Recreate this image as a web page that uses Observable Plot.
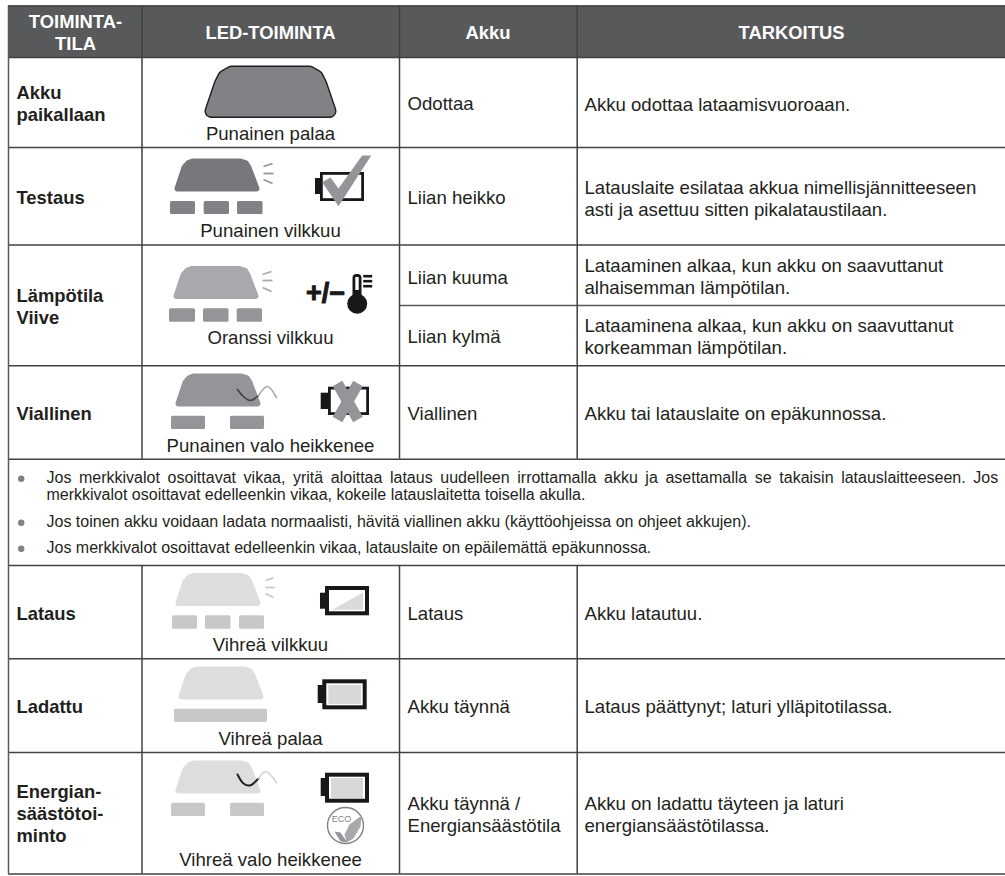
<!DOCTYPE html>
<html><head><meta charset="utf-8">
<style>html,body{margin:0;padding:0;background:#fff}svg{display:block}</style>
<script src="https://cdn.jsdelivr.net/npm/d3@7"></script>
<script src="https://cdn.jsdelivr.net/npm/@observablehq/plot@0.6"></script>
</head><body><div id="chart"></div>
<script>
const FONT = '"Liberation Sans", Arial, sans-serif';
const INK = "#231f20", LINE = "#414042", HEAD = "#58595b";

// table grid
const tableLeft = 8, tableRight = 1005, tableTop = 5.5, tableBottom = 873.5;
const columnEdges = [141.5, 399, 576.7];
const rowEdges = [57, 147, 244.5, 365.3, 458.7, 565, 658.3, 752];
const verticalSpans = [[5.5, 458.7], [565, 873.5]];

// text
const headers = [["TOIMINTA-\nTILA", 75, 31], ["LED-TOIMINTA", 270, 31.5], ["Akku", 487.5, 31.5], ["TARKOITUS", 791, 31.5]];
const modes = [["Akku\npaikallaan", 102.7], ["Testaus", 196.7], ["Lämpötila\nViive", 305.8], ["Viallinen", 412.7], ["Lataus", 612.7], ["Ladattu", 705.3], ["Energian-\nsäästötoi-\nminto", 812.7]];
const ledLabels = [["Punainen palaa", 134], ["Punainen vilkkuu", 230.7], ["Oranssi vilkkuu", 337.7], ["Punainen valo heikkenee", 445.7], ["Vihreä vilkkuu", 645], ["Vihreä palaa", 738.7], ["Vihreä valo heikkenee", 859.7]];
const batteryStates = [["Odottaa", 102.7], ["Liian heikko", 196.7], ["Liian kuuma", 276], ["Liian kylmä", 335.7], ["Viallinen", 412.7], ["Lataus", 612.7], ["Akku täynnä", 705.3], ["Akku täynnä /\nEnergiansäästötila", 813.7]];
const meanings = [
  ["Akku odottaa lataamisvuoroaan.", 103],
  ["Latauslaite esilataa akkua nimellisjännitteeseen\nasti ja asettuu sitten pikalataustilaan.", 197],
  ["Lataaminen alkaa, kun akku on saavuttanut\nalhaisemman lämpötilan.", 275.3],
  ["Lataaminena alkaa, kun akku on saavuttanut\nkorkeamman lämpötilan.", 335.7],
  ["Akku tai latauslaite on epäkunnossa.", 412.7],
  ["Akku latautuu.", 612.7],
  ["Lataus päättynyt; laturi ylläpitotilassa.", 705.3],
  ["Akku on ladattu täyteen ja laturi\nenergiansäästötilassa.", 813.7]
];
const notes = [
  ["Jos merkkivalot osoittavat vikaa, yritä aloittaa lataus uudelleen irrottamalla akku ja asettamalla se takaisin latauslaitteeseen. Jos", 477.7],
  ["merkkivalot osoittavat edelleenkin vikaa, kokeile latauslaitetta toisella akulla.", 494.7],
  ["Jos toinen akku voidaan ladata normaalisti, hävitä viallinen akku (käyttöohjeissa on ohjeet akkujen).", 521.7],
  ["Jos merkkivalot osoittavat edelleenkin vikaa, latauslaite on epäilemättä epäkunnossa.", 547.7]
];
const noteBullets = [478.3, 522.3, 548.3];

// LED icons
const bigLamp = [[211, 110.5], [220, 84], [224, 76], [231, 72], [309, 72], [316, 76], [320, 84], [329, 110.5], [211, 110.5]];
const lampOutline = [[3, 30], [10, 9], [14, 4.5], [18, 3], [66, 3], [71, 4.5], [74, 9], [82, 30], [3, 30]];
const lamps = [[174, 158, "#77787b"], [173, 265.5, "#a7a9ac"], [175, 373, "#939598"], [175, 572.5, "#dcddde"], [178, 666, "#dcddde"], [175, 760, "#dcddde"]];
const ledBlocks = [
  [170, 195, 201, 214, "#808285"], [203.7, 229, 201, 214, "#808285"], [237, 262.5, 201, 214, "#808285"],
  [169, 195, 308.3, 321.7, "#939598"], [203, 228.5, 308.3, 321.7, "#939598"], [236.7, 262, 308.3, 321.7, "#939598"],
  [171, 205, 415.7, 429, "#939598"], [230, 264, 415.7, 429, "#939598"],
  [172, 197, 615.3, 628.7, "#c7c8ca"], [205, 230.5, 615.3, 628.7, "#c7c8ca"], [239, 264, 615.3, 628.7, "#c7c8ca"],
  [174, 267, 708.7, 722, "#c7c8ca"],
  [171, 205, 802.7, 816, "#c7c8ca"], [230, 264, 802.7, 816, "#c7c8ca"]
];
const blinkTicks = [
  [263, 166, 272, 163, "#939598"], [263, 173, 273, 173, "#939598"], [263, 179, 272, 183, "#939598"],
  [262, 274, 271, 271, "#a7a9ac"], [262, 280, 272, 280, "#a7a9ac"], [262, 287, 271, 291, "#a7a9ac"],
  [265, 580, 273, 577.3, "#c7c8ca"], [265, 587, 274, 587, "#c7c8ca"], [265, 593, 273, 597, "#c7c8ca"]
];
const waves = [
  [[[237, 389], [243, 396], [250, 400], [258, 395]], "#414042", 1.6],
  [[[258, 395], [267, 386], [276, 397]], "#a7a9ac", 1.6],
  [[[237, 774], [243, 783], [249, 785], [258, 778]], "#231f20", 2],
  [[[258, 778], [265, 771], [276, 782]], "#d1d3d4", 1.6]
];

// battery icons
const thinBatteries = [[320, 364, 172, 201], [328, 369, 386.7, 415]];
const thickBatteries = [[325, 369, 586, 615.3], [322.3, 366.7, 679.3, 709.3], [325, 369, 772.7, 802.7]];
const batteryNubs = [[315, 321, 178, 194], [320.7, 329, 392.7, 409], [320, 326, 592.7, 608.7], [317.7, 323, 685, 703], [320.7, 326, 778, 796]];
const batteryFills = [[328.3, 361, 685, 704], [331, 363, 778, 798]];
const chargeWedge = [[331.7, 609.3], [362.7, 609.3], [362.7, 592], [331.7, 609.3]];
const checkMark = [[321.7, 181.7], [330, 177], [338, 188], [361.7, 155], [370.7, 155], [338, 205.7], [321.7, 181.7]];
const crossStrokes = [[337, 383, 357.5, 419], [357.5, 383, 337, 419]];
const thermoBulb = [356.7, 303.3];
const thermoTube = [352.5, 361.5, 274, 300];
const thermoSlit = [355.3, 358.7, 277, 290];
const thermoTicks = [[362.7, 275.7, 371.7, 275.7], [362.7, 280.7, 371.7, 280.7], [362.7, 285.7, 371.7, 285.7]];
const plusMinus = ["+/−", 325, 293];
const ecoBadge = [345, 825, 18];
const ecoLabel = ["ECO", 341, 819];
const ecoLeafBig = [[361, 815], [360, 826], [353, 838], [346, 842], [344, 834], [349, 824], [361, 815]];
const ecoLeafSmall = [[334, 831], [340, 832], [346.7, 842], [340, 841], [334, 831]];

const tx = {x: d => d[1], y: d => d[2], text: d => d[0], fontFamily: FONT, lineAnchor: "middle"};
const SIZE = 18.6, LH = 22 / 18.6;
const leftText = (rows, x, extra = {}) => Plot.text(rows, {x: () => x, y: d => d[1], text: d => d[0], textAnchor: "start", fontSize: SIZE, lineHeight: LH, fill: INK, fontFamily: FONT, lineAnchor: "middle", ...extra});
const rects = (rows, opts) => Plot.rect(rows, {x1: d => d[0], x2: d => d[1], y1: d => d[2], y2: d => d[3], ...opts});
const poly = (pts, opts) => Plot.line(pts, {x: d => d[0], y: d => d[1], ...opts});
const links = (rows, opts) => Plot.link(rows, {x1: d => d[0], y1: d => d[1], x2: d => d[2], y2: d => d[3], ...opts});

const marks = [
  // header
  Plot.rect([0], {x1: () => tableLeft, x2: () => tableRight, y1: () => tableTop, y2: () => rowEdges[0], fill: HEAD}),
  // grid
  Plot.ruleY([tableTop, ...rowEdges, tableBottom], {x1: () => tableLeft, x2: () => tableRight, stroke: LINE, strokeWidth: 1.5}),
  Plot.ruleY([305], {x1: () => columnEdges[1], x2: () => tableRight, stroke: "#58595b", strokeWidth: 1.5}),
  Plot.ruleX([tableLeft], {y1: () => tableTop, y2: () => tableBottom, stroke: "#58595b", strokeWidth: 1.5}),
  ...verticalSpans.map(s => Plot.ruleX(columnEdges, {y1: () => s[0], y2: () => s[1], stroke: LINE, strokeWidth: 1.5})),
  // header text
  Plot.text(headers, {...tx, fontSize: 18.4, fontWeight: "bold", fill: "#fff", lineHeight: 22 / 18.4, textAnchor: "middle"}),
  // columns
  leftText(modes, 16, {fontWeight: "bold", fontSize: 18.4}),
  Plot.text(ledLabels, {x: () => 270, y: d => d[1], text: d => d[0], textAnchor: "middle", fontSize: SIZE, fill: INK, fontFamily: FONT}),
  leftText(batteryStates, 407),
  leftText(meanings, 584),
  // notes
  leftText(notes, 46, {fontSize: 16, lineHeight: 1}),
  Plot.dot(noteBullets, {x: () => 20.7, y: d => d, r: 3.2, fill: "#808285"}),
  // big lamp
  poly(bigLamp, {fill: INK, stroke: INK, strokeWidth: 14, strokeLinejoin: "round"}),
  poly(bigLamp, {fill: "#808285", stroke: "#808285", strokeWidth: 11.2, strokeLinejoin: "round"}),
  // small lamps
  ...lamps.map(l => poly(lampOutline.map(p => [p[0] + l[0], p[1] + l[1]]), {fill: l[2], stroke: l[2], strokeWidth: 6, strokeLinejoin: "round"})),
  ...ledBlocks.map(b => rects([b], {fill: b[4], rx: 1.5})),
  ...blinkTicks.map(t => links([t], {stroke: t[4], strokeWidth: 1.8})),
  ...waves.map(w => poly(w[0], {stroke: w[1], strokeWidth: w[2], curve: "catmull-rom"})),
  // batteries
  rects(thinBatteries, {fill: "#fff", stroke: "#1a1718", strokeWidth: 2.8, inset: 1.4}),
  rects(thickBatteries, {fill: "#fff", stroke: "#1a1718", strokeWidth: 4, inset: 2}),
  rects(batteryNubs, {fill: "#1a1718"}),
  rects(batteryFills, {fill: "#d7d8da"}),
  poly(chargeWedge, {fill: "#d9dadb", stroke: "none"}),
  poly(checkMark, {fill: "#939598", stroke: "none"}),
  links(crossStrokes, {stroke: "#939598", strokeWidth: 11}),
  // thermometer
  Plot.dot([thermoBulb], {x: d => d[0], y: d => d[1], r: 10, fill: "#1a1718"}),
  rects([thermoTube], {fill: "#1a1718", rx: 4}),
  rects([thermoSlit], {fill: "#fff"}),
  links(thermoTicks, {stroke: "#1a1718", strokeWidth: 2.6}),
  Plot.text([plusMinus], {...tx, fontSize: 27, fontWeight: "bold", fill: "#1a1718", stroke: "#1a1718", strokeWidth: 1}),
  // eco badge
  Plot.dot([ecoBadge], {x: d => d[0], y: d => d[1], r: d => d[2], fill: "#fff", stroke: "#808285", strokeWidth: 1.4}),
  Plot.text([ecoLabel], {...tx, fontSize: 9, fill: "#808285"}),
  poly(ecoLeafBig, {fill: "#a7a9ac", stroke: "none"}),
  poly(ecoLeafSmall, {fill: "#939598", stroke: "none"})
];

const chart = Plot.plot({
  width: 1005, height: 876, margin: 0,
  x: {domain: [0, 1005], axis: null},
  y: {domain: [0, 876], reverse: true, axis: null},
  r: {type: "identity"},
  style: {background: "#fff", fontFamily: FONT},
  marks
});
document.getElementById("chart").append(chart);

// first note line is set justified up to the right end of the table text
const noteRight = 997.7;
for (const t of chart.querySelectorAll("text")) {
  if (t.textContent.startsWith(notes[0][0].slice(0, 32)) && t.textContent.endsWith("Jos")) {
    const gaps = t.textContent.split(" ").length - 1;
    const extra = (noteRight - 46 - t.getComputedTextLength()) / gaps;
    t.style.wordSpacing = extra + "px";
  }
}
</script></body></html>
